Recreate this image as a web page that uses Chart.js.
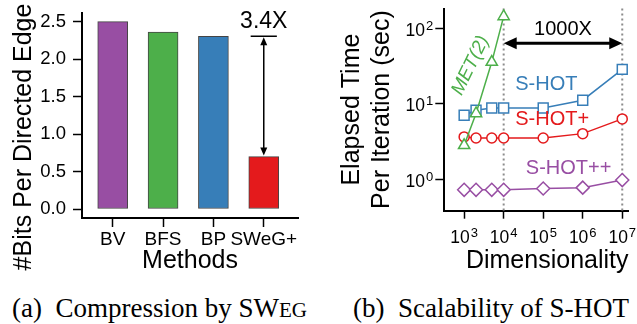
<!DOCTYPE html>
<html>
<head>
<meta charset="utf-8">
<script src="https://cdn.jsdelivr.net/npm/chart.js@4.4.0/dist/chart.umd.min.js"></script>
<style>
  body { margin: 0; background: #fff; width: 637px; height: 324px; position: relative; overflow: hidden; }
  canvas { position: absolute; top: 0; }
  #compression { left: 0; }
  #scalability { left: 320px; }
  .caption { position: absolute; top: 295px; font-family: "Liberation Serif", "Times New Roman", serif;
             font-size: 27px; line-height: 27px; white-space: pre; color: #000; }
</style>
</head>
<body>
<canvas id="compression" width="320" height="280"></canvas>
<canvas id="scalability" width="317" height="280"></canvas>
<div class="caption" style="left:12px">(a)  Compression by SW<span style="font-size:21px">EG</span></div>
<div class="caption" style="left:353px">(b)  Scalability of S-HOT</div>
<script>
// (a) bits per directed edge for each method
const methods = ["BV", "BFS", "BP", "SWeG+"];
const bitsPerEdge = [2.50, 2.36, 2.305, 0.70];
const barColors = ["#984EA3", "#4DAF4A", "#377EB8", "#E41A1C"];
const bitTicks = [0, 0.5, 1, 1.5, 2, 2.5];

// (b) elapsed time per iteration vs dimensionality
const dims = [1e3, 2e3, 5e3, 1e4, 1e5, 1e6, 1e7];
const shot = [7.0, 8.15, 8.75, 8.75, 8.75, 11.1, 28.4];
const shotPlus = [3.62, 3.5, 3.5, 3.5, 3.5, 4.0, 6.27];
const shotPlusPlus = [0.72, 0.72, 0.72, 0.72, 0.75, 0.77, 0.97];
const metDims = [1e3, 2e3, 5e3, 1e4];
const met2 = [2.8, 7.4, 35.5, 143];
const dimTicks = [1e3, 1e4, 1e5, 1e6, 1e7];
const timeTicks = [1, 10, 100];

const FONT = '"Liberation Sans", Arial, Helvetica, sans-serif';
Chart.defaults.font.family = FONT;
Chart.defaults.color = '#000';

// draw a filled arrow head with its tip at (x, y) pointing along (dx, dy)
function arrowHead(ctx, x, y, dx, dy, len, half) {
    const bx = x - dx * len, by = y - dy * len;
    ctx.beginPath();
    ctx.moveTo(x, y);
    ctx.lineTo(bx - dy * half, by + dx * half);
    ctx.lineTo(bx + dy * half, by - dx * half);
    ctx.closePath();
    ctx.fill();
}

function axisGrid(len) {
    return { drawOnChartArea: false, drawTicks: true, tickLength: len, tickWidth: 1.5, tickColor: '#000', offset: false };
}
const axisBorder = { display: true, color: '#000', width: 2 };

// y title of the bar chart sits lower than the plot centre, so draw it here
const bitsTitle = {
    id: 'bitsTitle',
    afterDraw(chart) {
        const ctx = chart.ctx;
        ctx.save();
        ctx.translate(24, 137);
        ctx.rotate(-Math.PI / 2);
        ctx.font = '25px ' + FONT;
        ctx.fillStyle = '#000';
        ctx.textAlign = 'center';
        ctx.textBaseline = 'middle';
        ctx.fillText('#Bits Per Directed Edge', 0, 0);
        ctx.restore();
    }
};

// "3.4X" reduction marker over the SWeG+ bar
const reduction = {
    id: 'reduction',
    afterDatasetsDraw(chart) {
        const { ctx, scales: { x, y } } = chart;
        const cx = x.getPixelForValue(3);
        const top = y.getPixelForValue(bitsPerEdge[2]);
        const bottom = y.getPixelForValue(bitsPerEdge[3]);
        ctx.save();
        ctx.strokeStyle = '#000';
        ctx.fillStyle = '#000';
        ctx.lineWidth = 1.5;
        ctx.beginPath();
        ctx.moveTo(x.getPixelForValue(2.74), top);
        ctx.lineTo(x.getPixelForValue(3.26), top);
        ctx.moveTo(cx, top + 4);
        ctx.lineTo(cx, bottom - 4);
        ctx.stroke();
        arrowHead(ctx, cx, top + 1, 0, -1, 8, 3.5);
        arrowHead(ctx, cx, bottom - 1, 0, 1, 8, 3.5);
        ctx.font = '23px ' + FONT;
        ctx.textAlign = 'center';
        ctx.textBaseline = 'alphabetic';
        ctx.fillText('3.4X', cx, top - 8);
        ctx.restore();
    }
};

new Chart(document.getElementById('compression'), {
    type: 'bar',
    data: {
        datasets: [{
            data: methods.map((m, i) => ({ x: i, y: bitsPerEdge[i] })),
            backgroundColor: barColors,
            borderColor: '#444',
            borderWidth: 1,
            borderSkipped: false,
            barThickness: 30
        }]
    },
    options: {
        responsive: false,
        animation: false,
        devicePixelRatio: 1,
        layout: { padding: { top: 13, right: 22, left: 0, bottom: 0 } },
        plugins: { legend: { display: false }, tooltip: { enabled: false } },
        scales: {
            x: {
                type: 'linear',
                bounds: 'data',
                min: -0.61,
                max: 3.68,
                offset: false,
                afterBuildTicks: s => { s.ticks = methods.map((m, i) => ({ value: i })); },
                afterFit: s => { s.height = 62; s.paddingLeft = 0; s.paddingRight = 0; },
                ticks: { callback: v => methods[v], font: { size: 19 }, padding: 1, autoSkip: false, maxRotation: 0 },
                grid: axisGrid(9),
                border: axisBorder,
                title: { display: true, text: 'Methods', font: { size: 25 }, padding: { top: 0, bottom: 3.5 } }
            },
            y: {
                bounds: 'data',
                min: -0.12,
                max: 2.616,
                afterBuildTicks: s => { s.ticks = bitTicks.map(v => ({ value: v })); },
                afterFit: s => { s.width = 82; s.paddingTop = 0; s.paddingBottom = 0; },
                ticks: { callback: v => v.toFixed(1), font: { size: 18.5 }, padding: 7 },
                grid: axisGrid(9),
                border: axisBorder
            }
        }
    },
    plugins: [bitsTitle, reduction]
});

// dotted guides, 1000X arrow and series labels
const scalabilityNotes = {
    id: 'scalabilityNotes',
    beforeDatasetsDraw(chart) {
        const { ctx, chartArea, scales: { x } } = chart;
        ctx.save();
        ctx.strokeStyle = '#8c8c8c';
        ctx.lineWidth = 2;
        ctx.setLineDash([2, 3]);
        [1e4, 1e7].forEach(d => {
            const px = x.getPixelForValue(d);
            ctx.beginPath();
            ctx.moveTo(px, chartArea.top);
            ctx.lineTo(px, chartArea.bottom);
            ctx.stroke();
        });
        ctx.restore();
    },
    afterDatasetsDraw(chart) {
        const { ctx, scales: { x, y } } = chart;
        ctx.save();
        // 1000X double arrow
        const ay = y.getPixelForValue(63);
        const x1 = x.getPixelForValue(1e4), x2 = x.getPixelForValue(1e7);
        ctx.strokeStyle = '#000';
        ctx.fillStyle = '#000';
        ctx.lineWidth = 3;
        ctx.beginPath();
        ctx.moveTo(x1 + 8, ay);
        ctx.lineTo(x2 - 8, ay);
        ctx.stroke();
        arrowHead(ctx, x1, ay, -1, 0, 13, 6);
        arrowHead(ctx, x2, ay, 1, 0, 13, 6);
        ctx.textAlign = 'center';
        ctx.textBaseline = 'middle';
        ctx.font = '20px ' + FONT;
        ctx.fillText('1000X', x.getPixelForValue(3.16e5), y.getPixelForValue(95));

        const label = (text, dx, ty, color, angle, style, size) => {
            ctx.save();
            ctx.translate(x.getPixelForValue(dx), y.getPixelForValue(ty));
            ctx.rotate(angle);
            ctx.font = (style || '') + ' ' + (size || 20) + 'px ' + FONT;
            ctx.fillStyle = color;
            ctx.fillText(text, 0, 0);
            ctx.restore();
        };
        label('S-HOT', 1.2e5, 18, '#377EB8', 0);
        label('S-HOT+', 1.69e5, 6.2, '#E41A1C', 0);
        label('S-HOT++', 4.4e5, 1.4, '#984EA3', 0);
        label('MET(2)', 1450, 32, '#4DAF4A', -64 * Math.PI / 180, 'italic', 19);
        ctx.restore();
    },
    // power-of-ten tick labels with a raised exponent
    afterDraw(chart) {
        const { ctx, scales: { x, y } } = chart;
        ctx.save();
        ctx.fillStyle = '#000';
        ctx.textAlign = 'left';
        ctx.textBaseline = 'alphabetic';
        const power = (v, px, py, align) => {
            const e = String(Math.round(Math.log10(v)));
            ctx.font = '17.5px ' + FONT;
            const wb = ctx.measureText('10').width;
            ctx.font = '13px ' + FONT;
            const we = ctx.measureText(e).width;
            const left = align === 'center' ? px - (wb + we + 1) / 2 : px - (wb + we + 1);
            ctx.font = '17.5px ' + FONT;
            ctx.fillText('10', left, py);
            ctx.font = '13px ' + FONT;
            ctx.fillText(e, left + wb + 1, py - 6);
        };
        x.ticks.forEach(t => power(t.value, x.getPixelForValue(t.value), x.top + 32.6, 'center'));
        y.ticks.forEach(t => power(t.value, y.right - 11, y.getPixelForValue(t.value) + 7.5, 'right'));
        ctx.restore();
    }
};

function series(label, xs, ys, color, style, radius) {
    return {
        label: label,
        data: xs.map((d, i) => ({ x: d, y: ys[i] })),
        borderColor: color,
        borderWidth: 1.5,
        pointStyle: style,
        pointRadius: radius,
        pointBorderColor: color,
        pointBackgroundColor: '#fff',
        pointBorderWidth: 1.5,
        tension: 0,
        clip: false
    };
}

new Chart(document.getElementById('scalability'), {
    type: 'line',
    data: {
        datasets: [
            series('MET(2)', metDims, met2, '#4DAF4A', 'triangle', 6.5),
            series('S-HOT++', dims, shotPlusPlus, '#984EA3', 'rectRot', 6.5),
            series('S-HOT+', dims, shotPlus, '#E41A1C', 'circle', 5),
            series('S-HOT', dims, shot, '#377EB8', 'rect', 7)
        ]
    },
    options: {
        responsive: false,
        animation: false,
        devicePixelRatio: 1,
        layout: { padding: { top: 8, right: 7, left: 0, bottom: 0 } },
        plugins: { legend: { display: false }, tooltip: { enabled: false } },
        scales: {
            x: {
                type: 'logarithmic',
                bounds: 'data',
                min: 314.8,
                max: 1.439e7,
                afterBuildTicks: s => { s.ticks = dimTicks.map(v => ({ value: v })); },
                afterFit: s => { s.height = 69.3; s.paddingLeft = 0; s.paddingRight = 0; },
                ticks: { display: false, autoSkip: false },
                grid: axisGrid(8),
                border: axisBorder,
                title: { display: true, text: 'Dimensionality', align: 'end', font: { size: 25 }, padding: { top: 0, bottom: 3.5 } }
            },
            y: {
                type: 'logarithmic',
                bounds: 'data',
                min: 0.381,
                max: 182,
                afterBuildTicks: s => { s.ticks = timeTicks.map(v => ({ value: v })); },
                afterFit: s => { s.width = 124.3; s.paddingTop = 0; s.paddingBottom = 0; },
                ticks: { display: false },
                grid: axisGrid(9),
                border: axisBorder,
                title: {
                    display: true,
                    text: ['Elapsed Time', 'Per Iteration (sec)'],
                    font: { size: 25, lineHeight: 1.2 },
                    padding: { top: 17, bottom: 0 }
                }
            }
        }
    },
    plugins: [scalabilityNotes]
});
</script>
</body>
</html>
